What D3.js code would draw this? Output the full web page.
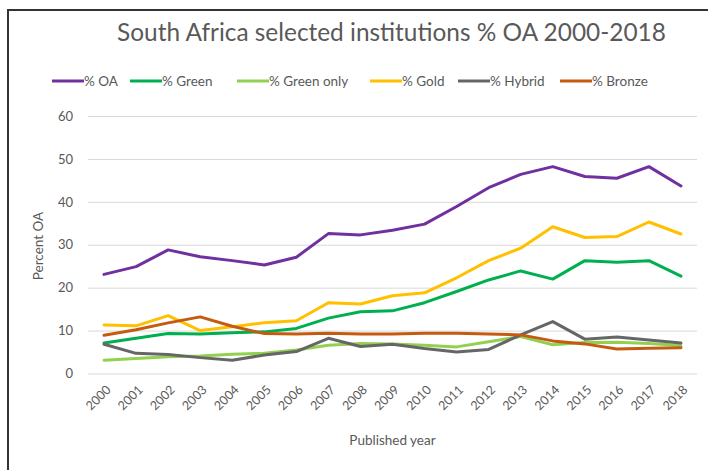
<!DOCTYPE html>
<html><head><meta charset="utf-8">
<script src="https://cdn.jsdelivr.net/npm/d3@7"></script>
<style>
html,body{margin:0;padding:0;background:#fff;}
svg{display:block;font-family:Lato,"Open Sans",sans-serif;}
</style></head>
<body>
<svg id="c" width="708" height="470"></svg>
<script>
const years = ["2000","2001","2002","2003","2004","2005","2006","2007","2008","2009","2010","2011","2012","2013","2014","2015","2016","2017","2018"];
const yTicks = [0,10,20,30,40,50,60];
const seriesNames = ["% OA","% Green","% Green only","% Gold","% Hybrid","% Bronze"];
const oa        = [23.1,24.9,28.8,27.2,26.3,25.3,27.1,32.6,32.3,33.4,34.8,38.9,43.3,46.4,48.2,45.9,45.5,48.2,43.7];
const green     = [7.1,8.2,9.3,9.2,9.5,9.7,10.5,12.9,14.4,14.6,16.5,19.1,21.8,23.9,22.0,26.3,25.9,26.3,22.7];
const greenOnly = [3.1,3.5,3.9,4.1,4.5,4.7,5.5,6.6,7.0,6.9,6.6,6.2,7.4,8.6,6.7,7.2,7.3,7.0,6.5];
const gold      = [11.3,11.1,13.5,10.0,10.9,11.8,12.3,16.5,16.2,18.1,18.8,22.3,26.3,29.2,34.2,31.7,31.9,35.3,32.5];
const hybrid    = [6.8,4.7,4.4,3.7,3.1,4.3,5.1,8.2,6.3,6.8,5.8,5.0,5.6,9.0,12.1,8.0,8.5,7.8,7.1];
const bronze    = [8.9,10.2,11.8,13.2,11.0,9.3,9.2,9.4,9.2,9.2,9.4,9.4,9.2,9.0,7.6,6.9,5.7,5.9,6.0];
const colors = ["#7030A0","#00B050","#92D050","#FFC000","#666666","#C55A11"];
const seriesValues = [oa, green, greenOnly, gold, hybrid, bronze];

const svg = d3.select("#c");
const txt = "#595959";

// frame
svg.append("path").attr("d","M8,470V10H708").attr("fill","none").attr("stroke","#333").attr("stroke-width",2);

const pL=88, pR=697, pT=116, pB=373.5;
const x = d3.scalePoint().domain(years).range([pL,pR]).padding(0.5);
const y = d3.scaleLinear().domain([0,60]).range([pB,pT]);

// gridlines
const yAxis = d3.axisLeft(y).tickValues(yTicks).tickSize(-(pR-pL)).tickPadding(15);
const gy = svg.append("g").attr("transform",`translate(${pL},0)`).call(yAxis);
gy.select(".domain").remove();
gy.selectAll(".tick line").attr("stroke","#d9d9d9").attr("stroke-width",1);
gy.selectAll(".tick text").attr("fill",txt).attr("font-size",13).attr("font-family","Lato");

// x labels
const xAxis = d3.axisBottom(x).tickSize(0).tickPadding(0);
const gx = svg.append("g").attr("transform",`translate(0,${pB})`).call(xAxis);
gx.select(".domain").remove();
gx.selectAll(".tick text")
  .attr("fill",txt).attr("font-size",12.5).attr("font-family","Lato")
  .attr("text-anchor","end").attr("dy",0).attr("y",0)
  .attr("transform","translate(7,17) rotate(-45)");

// lines
const line = d3.line().x((d,i)=>x(years[i])).y(d=>y(d));
seriesValues.forEach((vals,k)=>{
  svg.append("path").datum(vals).attr("d",line)
    .attr("fill","none").attr("stroke",colors[k]).attr("stroke-width",3)
    .attr("stroke-linejoin","round").attr("stroke-linecap","round");
});

// title
const title = svg.append("text").attr("x",391.5).attr("y",41).attr("text-anchor","middle")
  .attr("fill",txt).attr("font-size",22).text("South Africa selected institutions % OA 2000-2018");
const tw = title.node().getComputedTextLength();
title.attr("font-size", 22*549/tw);

// legend
const legX = [52,130,237,370,458,560];
seriesNames.forEach((n,k)=>{
  const g = svg.append("g").attr("transform",`translate(${legX[k]},81)`);
  g.append("line").attr("x1",0).attr("x2",32).attr("y1",0).attr("y2",0)
    .attr("stroke",colors[k]).attr("stroke-width",3);
  g.append("text").attr("x",32).attr("y",5).attr("fill",txt).attr("font-size",13.5).text(n);
});

// axis titles
svg.append("text").attr("x",392.5).attr("y",445).attr("text-anchor","middle")
  .attr("fill",txt).attr("font-size",13.5).text("Published year");
svg.append("text").attr("transform","translate(43,246) rotate(-90)").attr("text-anchor","middle")
  .attr("fill",txt).attr("font-size",13.5).text("Percent OA");
</script>
</body></html>
